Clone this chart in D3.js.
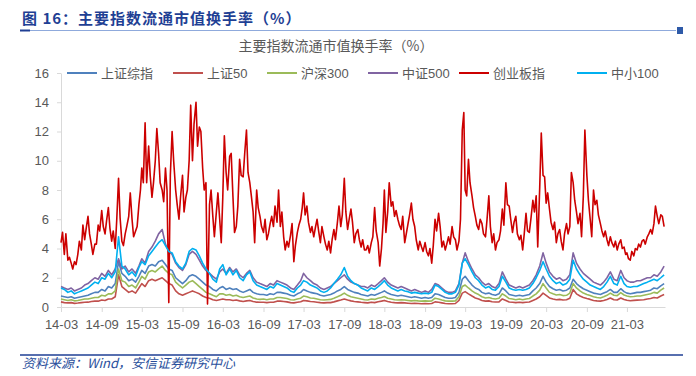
<!DOCTYPE html>
<html>
<head>
<meta charset="utf-8">
<script src="https://cdn.jsdelivr.net/npm/d3@7"></script>
<style>
  body { margin: 0; background: #fff; }
  svg { display: block; font-family: "Liberation Sans", "Noto Sans CJK SC", sans-serif; }
</style>
</head>
<body>
<svg id="chart" width="696" height="376"></svg>
<script>
// series names, legend order = drawing order
const seriesNames = ["上证综指", "上证50", "沪深300", "中证500", "创业板指", "中小100"];
const seriesColors = ["#4f81bd", "#c0504d", "#9bbb59", "#8064a2", "#cc0000", "#00b0f0"];

const yTicks = [0, 2, 4, 6, 8, 10, 12, 14, 16];
const xTickLabels = ["14-03", "14-09", "15-03", "15-09", "16-03", "16-09", "17-03", "17-09",
                     "18-03", "18-09", "19-03", "19-09", "20-03", "20-09", "21-03"];

// turnover %, two points per month (1st, 16th) from 2014-03
const szzs = [0.75,0.7,0.65,0.7,0.6,0.65,0.7,0.75,0.8,0.9, 1.0,1.0,1.2,1.1,1.4,1.3,1.6,3.1,2.3,2.1,
  1.8,1.9,1.7,2.1,2.5,2.3,2.8,2.9,2.8,3.1, 3.2,2.9,2.6,2.5,2.0,1.8,1.6,1.8,2.1,2.2,
  2.1,1.9,1.7,1.5,1.4,1.2,1.1,1.3,1.4,1.2, 1.3,1.2,1.25,1.1,1.0,1.1,1.2,1.0,0.9,0.85,
  0.85,0.8,0.9,0.85,1.0,1.0,0.95,0.9,0.8,0.75, 0.9,1.0,1.2,1.1,1.0,0.95,0.9,0.8,0.75,0.8,
  0.85,0.95,1.1,1.2,1.4,1.2,1.1,1.0,0.95,0.85, 0.8,0.75,0.85,0.8,0.9,1.0,1.1,0.95,0.85,0.8,
  0.75,0.8,0.75,0.7,0.65,0.7,0.65,0.6,0.65,0.6, 0.65,0.9,0.85,0.75,0.65,0.6,0.6,0.65,1.0,1.9,
  2.1,1.8,1.5,1.3,1.2,1.0,0.9,0.95,0.85,0.8, 0.9,1.3,1.1,0.85,0.8,0.75,0.8,0.75,0.8,0.85,
  1.1,1.3,1.6,2.1,1.7,1.4,1.25,1.15,1.2,1.1, 1.15,1.3,1.9,1.6,1.4,1.25,1.15,1.05,0.95,0.9,
  0.85,0.95,1.05,1.2,1.0,1.0,1.25,1.05,0.95,0.9, 0.95,1.0,1.0,1.05,1.1,1.15,1.3,1.25,1.45,1.6];

const sz50 = [0.35,0.3,0.28,0.3,0.25,0.27,0.3,0.32,0.33,0.38, 0.4,0.4,0.48,0.45,0.55,0.55,0.7,2.2,1.4,1.2,
  1.0,1.1,0.95,1.3,1.6,1.4,1.8,1.9,1.8,1.9, 2.0,1.8,1.6,1.5,1.1,0.9,0.8,0.9,1.0,1.1,
  1.0,0.9,0.75,0.65,0.6,0.5,0.45,0.5,0.55,0.5, 0.5,0.45,0.48,0.42,0.38,0.42,0.45,0.38,0.33,0.32,
  0.32,0.3,0.32,0.32,0.4,0.4,0.38,0.35,0.3,0.28, 0.32,0.36,0.45,0.42,0.38,0.36,0.33,0.3,0.28,0.3,
  0.3,0.35,0.42,0.48,0.55,0.48,0.42,0.38,0.35,0.32, 0.3,0.28,0.33,0.3,0.36,0.4,0.45,0.38,0.33,0.3,
  0.28,0.3,0.28,0.26,0.24,0.26,0.24,0.22,0.24,0.22, 0.24,0.35,0.32,0.28,0.24,0.22,0.22,0.24,0.45,0.95,
  1.05,0.9,0.75,0.62,0.55,0.45,0.4,0.42,0.36,0.34, 0.35,0.55,0.45,0.34,0.32,0.3,0.32,0.3,0.32,0.34,
  0.45,0.55,0.7,0.95,0.8,0.62,0.55,0.5,0.52,0.48, 0.5,0.6,1.2,0.9,0.75,0.65,0.58,0.52,0.45,0.42,
  0.4,0.45,0.52,0.62,0.5,0.48,0.62,0.52,0.46,0.43, 0.45,0.47,0.48,0.5,0.55,0.58,0.65,0.62,0.75,0.85];

const hs300 = [0.55,0.5,0.45,0.5,0.42,0.45,0.5,0.55,0.55,0.6, 0.65,0.65,0.8,0.75,0.9,0.9,1.1,2.6,1.8,1.7,
  1.4,1.5,1.3,1.7,2.1,1.9,2.4,2.5,2.4,2.6, 2.8,2.5,2.3,2.2,1.7,1.5,1.3,1.5,1.7,1.8,
  1.6,1.4,1.2,1.0,0.9,0.8,0.7,0.9,0.9,0.8, 0.85,0.75,0.8,0.7,0.65,0.7,0.75,0.62,0.55,0.52,
  0.55,0.5,0.55,0.55,0.65,0.65,0.62,0.58,0.5,0.48, 0.55,0.6,0.75,0.7,0.62,0.6,0.55,0.5,0.48,0.5,
  0.52,0.6,0.7,0.8,0.95,0.8,0.7,0.65,0.6,0.55, 0.5,0.48,0.55,0.52,0.6,0.65,0.72,0.6,0.55,0.5,
  0.48,0.5,0.48,0.45,0.42,0.45,0.42,0.4,0.42,0.4, 0.42,0.6,0.55,0.48,0.42,0.4,0.4,0.42,0.7,1.4,
  1.5,1.3,1.1,0.95,0.85,0.7,0.62,0.65,0.58,0.55, 0.6,0.9,0.75,0.58,0.55,0.5,0.55,0.5,0.55,0.58,
  0.75,0.9,1.15,1.6,1.3,1.0,0.9,0.82,0.85,0.78, 0.8,0.95,1.6,1.3,1.1,0.95,0.85,0.78,0.7,0.65,
  0.62,0.7,0.8,0.95,0.8,0.78,0.98,0.82,0.75,0.7, 0.72,0.75,0.75,0.8,0.85,0.9,1.0,0.95,1.15,1.3];

const zz500 = [1.4,1.3,1.2,1.3,1.1,1.2,1.3,1.5,1.6,1.8, 2.0,1.9,2.3,2.1,2.5,2.2,2.6,3.3,2.6,2.8,
  2.4,2.6,2.3,2.8,3.3,3.0,3.8,4.1,4.5,5.0, 5.3,4.3,3.8,3.6,3.0,2.7,2.5,2.9,3.6,3.8,
  3.6,3.2,2.8,2.5,2.3,2.1,1.9,2.4,2.6,2.3, 2.7,2.4,2.6,2.2,2.0,2.3,2.5,2.0,1.7,1.6,
  1.5,1.4,1.6,1.5,1.8,1.7,1.6,1.5,1.3,1.2, 1.5,1.8,2.3,2.0,1.8,1.6,1.5,1.3,1.2,1.3,
  1.4,1.6,1.8,2.0,2.2,1.9,1.7,1.6,1.5,1.4, 1.4,1.3,1.5,1.4,1.6,1.8,2.0,1.7,1.5,1.4,
  1.3,1.4,1.3,1.2,1.1,1.2,1.1,1.0,1.1,1.0, 1.2,1.6,1.5,1.3,1.1,1.0,1.0,1.1,1.6,3.0,
  3.7,3.1,2.6,2.2,2.0,1.7,1.5,1.6,1.4,1.3, 1.6,2.4,1.9,1.5,1.4,1.3,1.4,1.3,1.4,1.5,
  1.8,2.2,2.8,3.7,3.0,2.4,2.1,1.9,2.0,1.8, 1.9,2.2,3.7,3.0,2.6,2.3,2.1,1.9,1.7,1.6,
  1.5,1.7,2.0,2.4,1.9,1.8,2.5,2.0,1.8,1.7, 1.7,1.8,1.8,1.9,2.0,2.0,2.2,2.1,2.4,2.8];

const zx100 = [1.3,1.2,1.0,1.1,0.9,1.0,1.1,1.2,1.3,1.5, 1.7,1.6,2.0,1.9,2.3,2.0,2.4,4.8,2.8,2.6,
  2.2,2.4,2.1,2.7,3.1,2.9,3.5,3.8,4.1,4.4, 4.6,4.2,3.8,3.7,3.1,2.8,2.6,3.0,3.8,4.0,
  3.9,3.5,3.0,2.6,2.3,1.9,1.7,2.6,2.9,2.2, 2.6,2.2,2.5,2.0,1.8,2.2,2.4,1.8,1.5,1.4,
  1.3,1.2,1.4,1.3,1.6,1.5,1.4,1.3,1.1,1.0, 1.3,1.5,1.8,1.7,1.5,1.4,1.3,1.1,1.0,1.1,
  1.3,1.6,1.9,2.2,2.7,2.1,1.8,1.6,1.5,1.3, 1.2,1.1,1.3,1.2,1.4,1.6,1.8,1.5,1.3,1.2,
  1.1,1.2,1.1,1.05,0.95,1.0,0.95,0.9,0.95,0.9, 1.0,1.5,1.4,1.2,1.0,0.9,0.9,1.0,1.5,3.0,
  3.3,2.9,2.4,2.0,1.8,1.5,1.3,1.4,1.2,1.15, 1.4,2.1,1.7,1.3,1.2,1.15,1.2,1.15,1.2,1.3,
  1.6,2.0,2.5,3.1,2.6,2.1,1.8,1.6,1.7,1.5, 1.6,1.9,3.2,2.6,2.2,1.9,1.7,1.5,1.4,1.3,
  1.2,1.4,1.7,2.1,1.6,1.5,2.1,1.6,1.4,1.35, 1.4,1.4,1.5,1.6,1.7,1.8,1.9,1.8,2.0,2.2];

// 创业板指, four points per month (1st, 8th, 16th, 23rd) from 2014-03
const cybz = [4.4,5.1,3.6,5.0,3.2,3.4,3.0,2.6,3.1,2.9, 3.6,4.5,3.9,5.6,4.6,5.4,6.2,5.0,4.3,3.6,
  4.3,4.3,5.6,5.2,6.6,5.5,5.0,5.9,6.8,5.4, 4.5,5.2,4.0,6.0,8.8,6.1,4.5,4.2,5.0,5.5,
  6.2,7.8,6.0,4.8,5.2,5.5,7.0,8.0,9.5,8.5, 12.6,8.5,11.0,9.0,7.5,8.5,10.0,12.2,10.5,8.5,
  8.0,7.2,9.5,8.0,0.3,9.0,12.0,10.0,8.0,7.0, 6.0,7.5,9.0,6.5,7.5,8.0,10.0,13.8,10.0,12.5,
  14.0,11.0,12.3,12.0,9.5,8.0,8.5,0.2,7.0,8.0, 6.2,4.8,6.5,7.8,6.0,4.4,7.5,11.7,9.2,8.0,
  10.3,10.5,7.5,5.1,5.5,6.9,10.1,9.0,8.9,10.5, 12.1,9.2,8.5,7.6,6.5,4.4,8.0,6.8,6.2,5.5,
  5.1,6.0,4.6,5.0,5.7,6.2,5.5,6.9,5.8,8.0, 5.5,6.5,4.8,3.9,4.5,4.1,4.9,5.7,3.1,4.2,
  5.1,5.6,6.0,6.8,7.8,6.3,6.9,5.8,5.1,5.5, 4.8,5.4,6.0,5.2,4.4,5.5,4.8,4.3,3.9,4.5,
  3.7,4.6,5.3,4.6,5.8,6.9,5.5,6.3,8.8,6.5, 5.3,6.0,6.7,5.8,4.4,5.0,5.3,4.6,4.1,4.6,
  3.9,3.9,4.2,3.7,4.4,4.8,6.8,5.2,4.4,2.8, 4.0,5.7,8.0,5.1,6.5,8.5,6.9,7.2,6.2,6.6,
  6.0,5.6,5.3,6.2,4.4,5.0,5.7,6.3,7.1,6.0, 5.5,4.6,3.9,4.5,4.1,3.8,4.4,3.8,3.5,4.0,
  3.0,4.2,6.0,5.2,6.4,5.5,4.1,4.5,3.9,4.3, 4.8,4.3,5.5,4.8,4.6,3.9,4.5,6.0,12.1,13.3,
  8.0,7.6,10.1,8.5,7.6,6.8,6.2,5.6,5.3,6.0, 5.7,5.0,4.8,6.0,7.6,5.5,4.4,5.0,3.9,4.4,
  4.6,5.2,6.7,5.6,8.5,7.0,6.9,6.0,5.1,5.8, 6.2,5.0,4.6,4.9,3.9,5.0,6.4,5.2,5.1,6.0,
  7.3,6.5,7.6,4.1,8.2,11.9,9.0,8.9,7.1,7.8, 6.7,5.8,5.3,5.8,4.4,5.0,5.3,4.5,3.9,5.0,
  5.7,5.0,5.5,9.2,8.5,7.3,6.5,5.7,6.4,4.8, 7.6,12.1,9.0,7.3,6.0,4.8,8.0,7.0,7.3,6.3,
  5.7,5.2,4.8,5.2,4.6,4.2,4.8,4.4,4.1,4.5, 3.9,4.3,4.6,4.0,4.1,3.6,3.7,3.3,3.2,3.8,
  3.5,4.0,3.9,4.3,4.1,4.5,4.6,4.3,4.8,5.0, 5.3,5.0,5.7,6.9,6.2,5.7,6.3,6.2,5.5];

const seriesValues = [szzs, sz50, hs300, zz500, cybz, zx100];

// date grids for the two sampling steps
function monthDates(n, days) {
  const out = [];
  for (let i = 0; i < n; i++) {
    const m = Math.floor(i / days.length);
    out.push(new Date(2014, 2 + m, days[i % days.length]));
  }
  return out;
}

const svg = d3.select("#chart");
const textGray = "#595959";

// header
svg.append("text")
  .attr("x", 22).attr("y", 24)
  .attr("fill", "#1f3f94")
  .attr("font-size", 15).attr("font-weight", "bold")
  .attr("letter-spacing", 1)
  .attr("font-family", "'Noto Sans CJK SC', sans-serif")
  .text("图 16：主要指数流通市值换手率（%）");
svg.append("line").attr("x1", 20).attr("x2", 676).attr("y1", 30.5).attr("y2", 30.5)
  .attr("stroke", "#8faadc").attr("stroke-width", 1);
svg.append("line").attr("x1", 20).attr("x2", 30).attr("y1", 30.5).attr("y2", 30.5)
  .attr("stroke", "#1f3f94").attr("stroke-width", 2);
svg.append("rect").attr("x", 677).attr("y", 27).attr("width", 6).attr("height", 7).attr("fill", "#2e5aa8");

// chart title
svg.append("text")
  .attr("x", 336).attr("y", 51)
  .attr("text-anchor", "middle")
  .attr("fill", textGray).attr("font-size", 14)
  .attr("font-family", "'Noto Sans CJK SC', sans-serif")
  .text("主要指数流通市值换手率（%）");

// scales
const x = d3.scaleTime()
  .domain([new Date(2014, 2, 1), new Date(2021, 7, 20)])
  .range([61, 665]);
const y = d3.scaleLinear().domain([0, 16]).range([307, 73]);

// axes
const yAxis = svg.append("g")
  .attr("transform", "translate(61,0)")
  .call(d3.axisLeft(y).tickValues(yTicks).tickSize(4).tickPadding(8).tickSizeOuter(0));
const xTickDates = xTickLabels.map(s => new Date(2000 + +s.slice(0, 2), +s.slice(3) - 1, 1));
const xAxis = svg.append("g")
  .attr("transform", "translate(0,307)")
  .call(d3.axisBottom(x).tickValues(xTickDates).tickFormat((d, i) => xTickLabels[i])
    .tickSize(5).tickPadding(8).tickSizeOuter(0));

[yAxis, xAxis].forEach(g => {
  g.select(".domain").attr("stroke", "#d9d9d9");
  g.selectAll(".tick line").attr("stroke", "#d9d9d9");
  g.selectAll(".tick text").attr("fill", textGray).attr("font-size", 13)
    .attr("font-family", "'Liberation Sans', sans-serif");
});

// lines
const line = d3.line().x(d => x(d.date)).y(d => y(d.v));
seriesValues.forEach((vals, i) => {
  const dates = vals === cybz ? monthDates(vals.length, [1, 8, 16, 23]) : monthDates(vals.length, [1, 16]);
  const pts = vals.map((v, j) => ({ date: dates[j], v: v }));
  svg.append("path")
    .datum(pts)
    .attr("d", line)
    .attr("fill", "none")
    .attr("stroke", seriesColors[i])
    .attr("stroke-width", 1.6)
    .attr("stroke-linejoin", "round");
});

// legend
const legendX = [67, 173, 267, 368, 459, 577];
const legend = svg.append("g").attr("font-size", 13);
seriesNames.forEach((name, i) => {
  const g = legend.append("g").attr("transform", `translate(${legendX[i]},73)`);
  g.append("line").attr("x1", 0).attr("x2", 30).attr("stroke", seriesColors[i]).attr("stroke-width", 2);
  g.append("text").attr("x", 34).attr("dy", "0.35em").attr("fill", textGray).text(name);
});

// footer
svg.append("line").attr("x1", 20).attr("x2", 683).attr("y1", 355).attr("y2", 355)
  .attr("stroke", "#1f3f94").attr("stroke-width", 1.5);
svg.append("text")
  .attr("x", 22).attr("y", 368)
  .attr("fill", "#2a4f9c").attr("font-size", 13).attr("font-style", "italic")
  .attr("font-family", "'Noto Sans CJK SC', sans-serif")
  .text("资料来源：Wind，安信证券研究中心");
</script>
</body>
</html>
